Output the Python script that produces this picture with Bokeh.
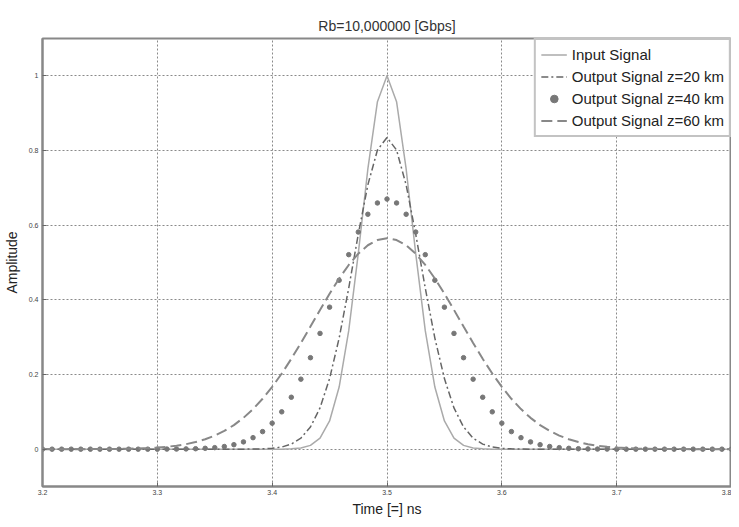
from bokeh.plotting import figure
from bokeh.models import Range1d, FixedTicker, Legend, LegendItem
from bokeh.embed import file_html
from bokeh.resources import INLINE

# sample times (ns): 3.2 .. 3.8, step 1/120 ns
time_ns = [round(3.2 + i / 120, 5) for i in range(73)]

input_signal = [
    0, 0, 0, 0, 0, 0, 0, 0, 0, 0, 0, 0, 0, 0, 0, 0, 0, 0, 0, 0, 0, 0, 0, 0, 0, 0,
    0.0008, 0.003, 0.0101, 0.0297, 0.0756, 0.1664, 0.3173, 0.5243, 0.7505, 0.9308,
    1.0,
    0.9308, 0.7505, 0.5243, 0.3173, 0.1664, 0.0756, 0.0297, 0.0101, 0.003, 0.0008,
    0, 0, 0, 0, 0, 0, 0, 0, 0, 0, 0, 0, 0, 0, 0, 0, 0, 0, 0, 0, 0, 0, 0, 0, 0, 0,
]

output_z20 = [
    0, 0, 0, 0, 0, 0, 0, 0, 0, 0, 0, 0, 0, 0, 0, 0, 0, 0, 0, 0, 0, 0,
    0.0003, 0.0008, 0.0022, 0.0057, 0.0135, 0.0295, 0.0594, 0.1105, 0.189,
    0.2975, 0.4314, 0.5759, 0.7079, 0.8012,
    0.835,
    0.8012, 0.7079, 0.5759, 0.4314, 0.2975,
    0.189, 0.1105, 0.0594, 0.0295, 0.0135, 0.0057, 0.0022, 0.0008, 0.0003,
    0, 0, 0, 0, 0, 0, 0, 0, 0, 0, 0, 0, 0, 0, 0, 0, 0, 0, 0, 0, 0, 0,
]

output_z40 = [
    0, 0, 0, 0, 0, 0, 0, 0, 0, 0, 0, 0, 0,
    0.0002, 0.0003, 0.0007, 0.0012, 0.0023, 0.0041, 0.0071, 0.012, 0.0195,
    0.0308, 0.047, 0.0697, 0.1, 0.1391, 0.1875, 0.245, 0.3101, 0.3804,
    0.4523, 0.521, 0.5816, 0.6292, 0.6595,
    0.67,
    0.6595, 0.6292, 0.5816, 0.521, 0.4523,
    0.3804, 0.3101, 0.245, 0.1875, 0.1391, 0.1, 0.0697, 0.047, 0.0308,
    0.0195, 0.012, 0.0071, 0.0041, 0.0023, 0.0012, 0.0007, 0.0003, 0.0002,
    0, 0, 0, 0, 0, 0, 0, 0, 0, 0, 0, 0, 0,
]

output_z60 = [
    0, 0, 0, 0, 0,
    0.0002, 0.0003, 0.0005, 0.0007, 0.0012, 0.0018, 0.0028, 0.0043, 0.0064,
    0.0093, 0.0134, 0.019, 0.0265, 0.0363, 0.0488, 0.0645, 0.0839, 0.1073,
    0.1349, 0.1667, 0.2026, 0.242, 0.2844, 0.3284, 0.373, 0.4164, 0.4571,
    0.4934, 0.5235, 0.5462, 0.5602,
    0.565,
    0.5602, 0.5462, 0.5235, 0.4934,
    0.4571, 0.4164, 0.373, 0.3284, 0.2844, 0.242, 0.2026, 0.1667, 0.1349,
    0.1073, 0.0839, 0.0645, 0.0488, 0.0363, 0.0265, 0.019, 0.0134, 0.0093,
    0.0064, 0.0043, 0.0028, 0.0018, 0.0012, 0.0007, 0.0005, 0.0003, 0.0002,
    0, 0, 0, 0, 0,
]

x_ticks = [3.2, 3.3, 3.4, 3.5, 3.6, 3.7, 3.8]
x_tick_labels = ["3.2", "3.3", "3.4", "3.5", "3.6", "3.7", "3.8"]
y_ticks = [0, 0.2, 0.4, 0.6, 0.8, 1.0]
y_tick_labels = ["0", "0.2", "0.4", "0.6", "0.8", "1"]

series_labels = ["Input Signal", "Output Signal z=20 km",
                 "Output Signal z=40 km", "Output Signal z=60 km"]

FONT = "Liberation Sans"

p = figure(width=731, height=519, output_backend="svg", toolbar_location=None,
           x_range=Range1d(3.2, 3.8), y_range=Range1d(-0.1, 1.1),
           min_border_left=35, min_border_right=0, min_border_top=38,
           min_border_bottom=30, background_fill_color="white",
           border_fill_color="white")

p.title.text = "Rb=10,000000 [Gbps]"
p.title.align = "center"
p.title.text_font = FONT
p.title.text_font_size = "14px"
p.title.text_font_style = "normal"
p.title.text_color = "#333333"

p.outline_line_color = "#888888"
p.outline_line_width = 2

for ax in (p.xaxis[0], p.yaxis[0]):
    ax.axis_line_color = "#888888"
    ax.axis_line_width = 2
    ax.major_tick_in = 4
    ax.major_tick_out = 0
    ax.major_tick_line_color = "#666666"
    ax.minor_tick_line_color = None
    ax.major_label_text_font = FONT
    ax.major_label_text_font_size = "7px"
    ax.major_label_text_color = "#444444"
    ax.axis_label_text_font = FONT
    ax.axis_label_text_font_size = "14px"
    ax.axis_label_text_font_style = "normal"
    ax.axis_label_text_color = "#222222"

p.xaxis.ticker = FixedTicker(ticks=x_ticks)
p.xaxis.major_label_overrides = dict(zip(x_ticks, x_tick_labels))
p.yaxis.ticker = FixedTicker(ticks=y_ticks)
p.yaxis.major_label_overrides = dict(zip(y_ticks, y_tick_labels))
p.xaxis.axis_label = "Time [=] ns"
p.yaxis.axis_label = "Amplitude"
p.xaxis.major_label_standoff = 3
p.yaxis.major_label_standoff = 4
p.xaxis.axis_label_standoff = 3
p.yaxis.axis_label_standoff = 6

for g in (p.xgrid[0], p.ygrid[0]):
    g.grid_line_color = "#8a8a8a"
    g.grid_line_dash = "2 2"
    g.grid_line_width = 1

r_in = p.line(time_ns, input_signal, line_color="#aaaaaa", line_width=1.5)
r_20 = p.line(time_ns, output_z20, line_color="#666666", line_width=1.5,
              line_dash="7 3 2 3")
r_40 = p.scatter(time_ns, output_z40, size=4.5, fill_color="#777777",
                 line_color="#777777", marker="circle")
r_60 = p.line(time_ns, output_z60, line_color="#888888", line_width=2,
              line_dash="11 5")

legend = Legend(items=[LegendItem(label=lab, renderers=[r])
                       for lab, r in zip(series_labels, [r_in, r_20, r_40, r_60])],
                location="top_right", margin=0, padding=5, spacing=3,
                glyph_width=26, glyph_height=19, label_height=19,
                label_standoff=5, label_text_font=FONT,
                label_text_font_size="15px", label_text_color="#222222",
                border_line_color="#888888", border_line_width=2,
                background_fill_color="white", background_fill_alpha=1.0)
p.add_layout(legend)

open("out.html", "w").write(file_html(p, INLINE))
